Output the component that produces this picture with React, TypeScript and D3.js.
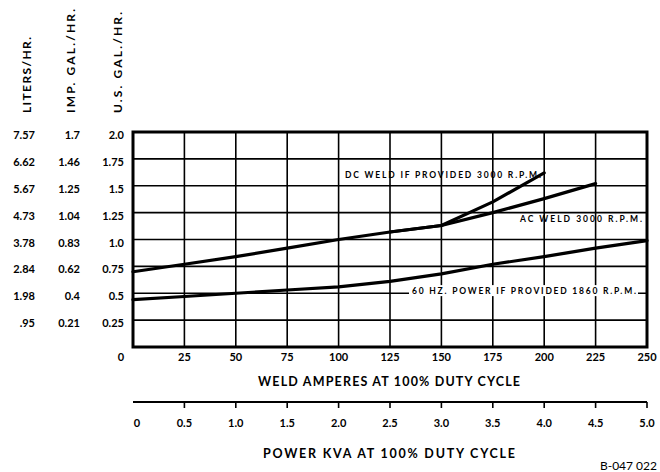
import React from "react";
import * as d3 from "d3";

// weld amperes (bottom axis) and power kva (second axis)
const ampTicks = [0, 25, 50, 75, 100, 125, 150, 175, 200, 225, 250];
const ampLabels = ["0", "25", "50", "75", "100", "125", "150", "175", "200", "225", "250"];
const kvaTicks = [0, 0.5, 1, 1.5, 2, 2.5, 3, 3.5, 4, 4.5, 5];
const kvaLabels = ["0", "0.5", "1.0", "1.5", "2.0", "2.5", "3.0", "3.5", "4.0", "4.5", "5.0"];

// three fuel scales on the left
const usGalTicks = [0.25, 0.5, 0.75, 1, 1.25, 1.5, 1.75, 2];
const usGalLabels = ["0.25", "0.5", "0.75", "1.0", "1.25", "1.5", "1.75", "2.0"];
const impGalLabels = ["0.21", "0.4", "0.62", "0.83", "1.04", "1.25", "1.46", "1.7"];
const literLabels = [".95", "1.98", "2.84", "3.78", "4.73", "5.67", "6.62", "7.57"];
const gridRows = [0.25, 0.5, 0.75, 1, 1.25, 1.5, 1.75];
const gridCols = [25, 50, 75, 100, 125, 150, 175, 200, 225];

// curves, US gal/hr
const acAmps = [0, 25, 50, 75, 100, 125, 150, 175, 200, 225];
const acWeld = [0.7, 0.77, 0.84, 0.92, 1.0, 1.07, 1.13, 1.25, 1.38, 1.52];
const dcAmps = [125, 150, 175, 200];
const dcWeld = [1.07, 1.13, 1.35, 1.62];
const powerAmps = [0, 25, 50, 75, 100, 125, 150, 175, 200, 225, 250];
const power = [0.44, 0.47, 0.5, 0.53, 0.56, 0.61, 0.68, 0.77, 0.84, 0.92, 0.99];

const W = 660;
const H = 472;
const FONT = "Lato, 'DejaVu Sans', sans-serif";

export default function App() {
  const x = d3.scaleLinear().domain([0, 250]).range([133, 647]);
  const xk = d3.scaleLinear().domain([0, 5]).range([133, 647]);
  const y = d3.scaleLinear().domain([0, 2]).range([347, 132]);

  const line = d3
    .line<[number, number]>()
    .x((d) => x(d[0]))
    .y((d) => y(d[1]));

  const zip = (a: number[], b: number[]) => a.map((v, i) => [v, b[i]] as [number, number]);

  const kvaY = 402;

  return (
    <div style={{ position: "absolute", left: 0, top: 0 }}>
      <svg width={W} height={H} style={{ display: "block", background: "#fff" }} fontFamily={FONT}>
        {/* grid */}
        {gridRows.map((v) => (
          <line key={"r" + v} x1={x(0)} x2={x(250)} y1={y(v)} y2={y(v)} stroke="#000" strokeWidth={1.6} />
        ))}
        {gridCols.map((v) => (
          <line key={"c" + v} x1={x(v)} x2={x(v)} y1={y(0)} y2={y(2)} stroke="#000" strokeWidth={1.6} />
        ))}
        <rect x={x(0)} y={y(2)} width={x(250) - x(0)} height={y(0) - y(2)} fill="none" stroke="#000" strokeWidth={3} />

        {/* curves */}
        <g fill="none" stroke="#000" strokeWidth={3.2} strokeLinejoin="round" strokeLinecap="round">
          <path d={line(zip(acAmps, acWeld)) || ""} />
          <path d={line(zip(dcAmps, dcWeld)) || ""} />
          <path d={line(zip(powerAmps, power)) || ""} />
        </g>

        {/* curve labels */}
        <g fontSize={8.5} fontWeight="bold" fill="#000">
          <text x={345} y={y(1.6) + 3} textLength={196} lengthAdjust="spacing">
            DC WELD   IF PROVIDED   3000 R.P.M.
          </text>
          <text x={520} y={y(1.19) + 3} textLength={122} lengthAdjust="spacing">
            AC WELD  3000 R.P.M.
          </text>
          <rect x={409} y={y(0.52) - 6} width={229} height={11} fill="#fff" />
          <text x={412} y={y(0.52) + 3} textLength={224} lengthAdjust="spacing">
            60 HZ.   POWER   IF PROVIDED   1860 R.P.M.
          </text>
        </g>

        {/* left scales */}
        <g fontSize={11} fontWeight="bold" fill="#000" textAnchor="end">
          {usGalTicks.map((v, i) => (
            <g key={v}>
              <text x={124} y={y(v) + 7}>{usGalLabels[i]}</text>
              <text x={80} y={y(v) + 7}>{impGalLabels[i]}</text>
              <text x={35} y={y(v) + 7}>{literLabels[i]}</text>
            </g>
          ))}
        </g>
        <g fontSize={12} fontWeight="bold" fill="#000">
          <text transform="translate(31,113) rotate(-90)" textLength={76} lengthAdjust="spacing">LITERS/HR.</text>
          <text transform="translate(75,113) rotate(-90)" textLength={104} lengthAdjust="spacing">IMP.  GAL./HR.</text>
          <text transform="translate(122,113) rotate(-90)" textLength={101} lengthAdjust="spacing">U.S.  GAL./HR.</text>
        </g>

        {/* weld amperes axis */}
        <g fontSize={11} fontWeight="bold" fill="#000" textAnchor="middle">
          {ampTicks.map((v, i) => (
            <text key={v} x={i === 0 ? x(v) - 12 : x(v)} y={361}>{ampLabels[i]}</text>
          ))}
        </g>
        <text x={389} y={386} fontSize={12.5} fontWeight="bold" textAnchor="middle" textLength={262} lengthAdjust="spacing">
          WELD AMPERES AT 100% DUTY CYCLE
        </text>

        {/* power kva axis */}
        <line x1={xk(0)} x2={xk(5)} y1={kvaY} y2={kvaY} stroke="#000" strokeWidth={2} />
        {kvaTicks.slice(1).map((v) => (
          <line key={v} x1={xk(v)} x2={xk(v)} y1={kvaY} y2={kvaY + 6} stroke="#000" strokeWidth={1.6} />
        ))}
        <g fontSize={11} fontWeight="bold" fill="#000" textAnchor="middle">
          {kvaTicks.map((v, i) => (
            <text key={v} x={i === 0 ? xk(v) + 4 : xk(v)} y={427}>{kvaLabels[i]}</text>
          ))}
        </g>
        <text x={389} y={458} fontSize={12.5} fontWeight="bold" textAnchor="middle" textLength={252} lengthAdjust="spacing">
          POWER KVA AT 100% DUTY CYCLE
        </text>

        <text x={657} y={470} fontSize={12} textAnchor="end" fill="#000">B-047 022</text>
      </svg>
    </div>
  );
}
